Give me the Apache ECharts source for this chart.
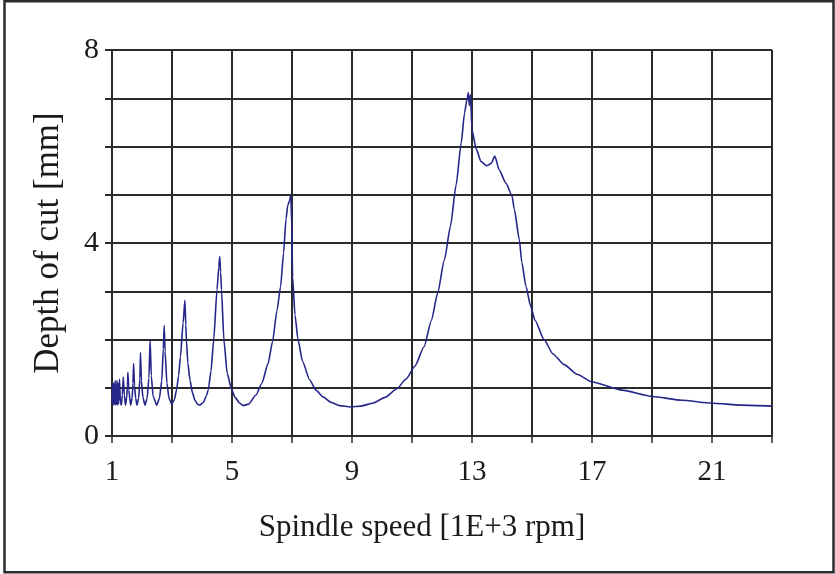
<!DOCTYPE html>
<html>
<head>
<meta charset="utf-8">
<script src="https://cdn.jsdelivr.net/npm/echarts@6/dist/echarts.min.js"></script>
<style>
html,body{margin:0;padding:0;background:#fff;}
#c{width:835px;height:574px;}
</style>
</head>
<body>
<div id="c"></div>
<script>
// Spindle speed [1E+3 rpm]
const speed = [1.00,1.015,1.03,1.045,1.06,1.075,1.09,1.105,1.12,1.135,1.15,1.165,1.18,1.20,1.22,1.25,1.28,1.31,1.345,1.375,1.41,1.45,1.49,1.515,1.53,1.56,1.62,1.67,1.70,1.72,1.75,1.79,1.83,1.89,1.93,1.95,1.98,2.03,2.10,2.17,2.23,2.27,2.31,2.37,2.49,2.58,2.66,2.71,2.74,2.77,2.83,2.90,2.99,3.08,3.15,3.22,3.28,3.37,3.43,3.46,3.48,3.53,3.60,3.68,3.76,3.85,3.93,4.05,4.15,4.21,4.30,4.39,4.50,4.56,4.59,4.62,4.65,4.73,4.84,4.98,5.10,5.26,5.37,5.55,5.80,6.00,6.20,6.35,6.50,6.62,6.72,6.80,6.86,6.92,6.96,6.99,7.02,7.10,7.20,7.35,7.59,7.80,8.03,8.30,8.59,8.95,9.30,9.70,10.10,10.50,10.80,11.10,11.40,11.65,11.85,12.08,12.28,12.47,12.64,12.75,12.84,12.88,12.91,12.95,13.00,13.14,13.30,13.49,13.64,13.76,13.91,14.13,14.33,14.41,14.58,14.66,14.80,14.95,15.10,15.40,15.70,16.07,16.50,17.00,18.00,19.00,20.00,21.00,22.00,23.00];
// Depth of cut [mm]
const depth = [0.70,1.05,0.66,1.10,0.64,1.08,0.66,1.15,0.64,1.05,0.66,1.15,0.64,1.10,0.66,1.18,0.70,0.64,0.85,1.22,0.85,0.64,0.80,1.05,1.32,0.95,0.64,0.78,1.10,1.50,1.05,0.78,0.64,0.78,1.20,1.73,1.15,0.80,0.64,0.78,1.20,1.99,1.25,0.82,0.64,0.78,1.15,1.80,2.29,1.75,1.10,0.78,0.66,0.75,0.95,1.25,1.64,2.34,2.81,2.30,1.99,1.50,1.16,0.90,0.75,0.66,0.64,0.70,0.84,0.96,1.35,1.99,3.03,3.50,3.72,3.40,3.03,1.99,1.30,0.98,0.80,0.68,0.63,0.66,0.85,1.10,1.50,1.95,2.60,3.10,3.80,4.50,4.78,4.88,5.00,4.40,3.30,2.50,2.00,1.55,1.16,0.95,0.81,0.70,0.63,0.60,0.62,0.68,0.80,0.98,1.18,1.45,1.85,2.40,2.95,3.65,4.34,5.20,6.07,6.69,7.00,7.12,6.85,7.07,6.34,5.95,5.69,5.60,5.65,5.80,5.51,5.24,4.99,4.70,4.06,3.60,3.10,2.70,2.40,2.00,1.70,1.48,1.28,1.12,0.95,0.82,0.74,0.68,0.64,0.62];
const xLabels = [1,5,9,13,17,21];
const yLabels = [0,4,8];

const points = speed.map((s,i)=>[s, depth[i]]);
const chart = echarts.init(document.getElementById('c'), null, {renderer:'canvas'});
const font = '"Liberation Serif","Times New Roman",serif';
const gridColor = '#2a2a2a';
chart.setOption({
  animation:false,
  backgroundColor:'#ffffff',
  graphic:[{type:'rect', shape:{x:4.5,y:1.2,width:829,height:571}, style:{fill:'none',stroke:'#2b2b2b',lineWidth:2.5}, silent:true}],
  grid:{left:112,right:63,top:50,bottom:138},
  xAxis:{
    type:'value', min:1, max:23, interval:2,
    name:'Spindle speed [1E+3 rpm]', nameLocation:'middle', nameGap:76,
    nameTextStyle:{fontFamily:font,fontSize:31,color:'#1a1a1a',padding:[0,40,0,0]},
    axisLine:{show:true,lineStyle:{color:gridColor,width:2}},
    axisTick:{show:true,length:7,lineStyle:{color:gridColor,width:1.5}},
    axisLabel:{fontFamily:font,fontSize:29,color:'#1a1a1a',margin:22,
      formatter:v=> xLabels.indexOf(Math.round(v))>=0 && Math.abs(v-Math.round(v))<1e-6 ? String(Math.round(v)) : ''},
    splitLine:{show:true,lineStyle:{color:gridColor,width:2}}
  },
  yAxis:{
    type:'value', min:0, max:8, interval:1,
    name:'Depth of cut [mm]', nameLocation:'middle', nameGap:46, nameRotate:90,
    nameTextStyle:{fontFamily:font,fontSize:35,color:'#1a1a1a'},
    axisLine:{show:true,lineStyle:{color:gridColor,width:2}},
    axisTick:{show:true,length:7,lineStyle:{color:gridColor,width:2}},
    axisLabel:{fontFamily:font,fontSize:30,color:'#1a1a1a',margin:13,
      formatter:v=> yLabels.indexOf(Math.round(v))>=0 && Math.abs(v-Math.round(v))<1e-6 ? String(Math.round(v)) : ''},
    splitLine:{show:true,lineStyle:{color:gridColor,width:2}}
  },
  series:[{
    type:'line', data:points, showSymbol:false, smooth:0.2, smoothMonotone:'x',
    lineStyle:{color:'#26268a',width:1.6}, z:5
  }]
});
</script>
</body>
</html>
